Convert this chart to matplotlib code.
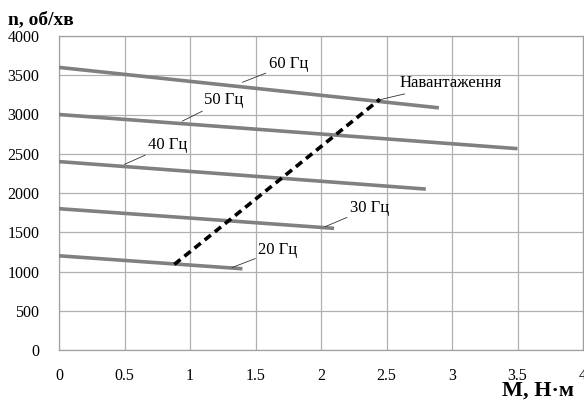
import matplotlib
matplotlib.use("Agg")
import matplotlib.pyplot as plt

plt.rcParams['font.family'] = ['Liberation Serif', 'DejaVu Serif']

# speed curves n(M) for each supply frequency
freq_labels = ["20 Гц", "30 Гц", "40 Гц", "50 Гц", "60 Гц"]
torque_start = [0, 0, 0, 0, 0]
torque_end = [1.4, 2.1, 2.8, 3.5, 2.9]
speed_start = [1200, 1800, 2400, 3000, 3600]
speed_end = [1035, 1550, 2050, 2565, 3085]

# load characteristic
load_m = [0.88, 2.45]
load_n = [1090, 3195]

# label anchor on line -> text position
label_xy = [(1.32, 1050), (2.03, 1570), (0.5, 2365), (0.94, 2915), (1.4, 3410)]
label_text_xy = [(1.52, 1275), (2.22, 1810), (0.68, 2610), (1.11, 3180), (1.6, 3640)]
load_xy = (2.44, 3185)
load_text_xy = (2.6, 3400)

fig = plt.figure(figsize=(5.84, 4.03), dpi=100)
ax = fig.add_axes([59/584, 53/403, 524/584, 314/403])

for i in range(len(freq_labels)):
    ax.plot([torque_start[i], torque_end[i]], [speed_start[i], speed_end[i]],
            color='#808080', lw=2.6, solid_capstyle='butt', zorder=3)
    ax.annotate(freq_labels[i], xy=label_xy[i], xytext=label_text_xy[i],
                fontsize=12, va='center', ha='left',
                arrowprops=dict(arrowstyle='-', color='#333333', lw=0.6,
                                shrinkA=0, shrinkB=0), zorder=4)

ax.plot(load_m, load_n, color='black', lw=2.6, dashes=(2.2, 1.4), zorder=4)
ax.annotate("Навантаження", xy=load_xy, xytext=load_text_xy,
            fontsize=12, va='center', ha='left',
            arrowprops=dict(arrowstyle='-', color='#333333', lw=0.6,
                            shrinkA=0, shrinkB=0), zorder=4)

ax.set_xlim(0, 4)
ax.set_ylim(0, 4000)
ax.set_xticks([0, 0.5, 1, 1.5, 2, 2.5, 3, 3.5, 4])
ax.set_xticklabels(["0", "0.5", "1", "1.5", "2", "2.5", "3", "3.5", "4"])
ax.set_yticks(range(0, 4001, 500))
ax.tick_params(axis='both', length=0, labelsize=11.5)
ax.tick_params(axis='x', pad=13)
ax.tick_params(axis='y', pad=14)
ax.grid(True, color='#b0b0b0', lw=0.9)
ax.set_axisbelow(True)
for s in ax.spines.values():
    s.set_color('#a0a0a0')
    s.set_linewidth(0.9)

fig.text(8/584, 1 - 20/403, "n, об/хв", fontsize=14, fontweight='bold', va='center', ha='left')
fig.text(502/584, 1 - 391/403, "M, Н·м", fontsize=16, fontweight='bold', va='center', ha='left')

fig.savefig("out.png", dpi=100)
